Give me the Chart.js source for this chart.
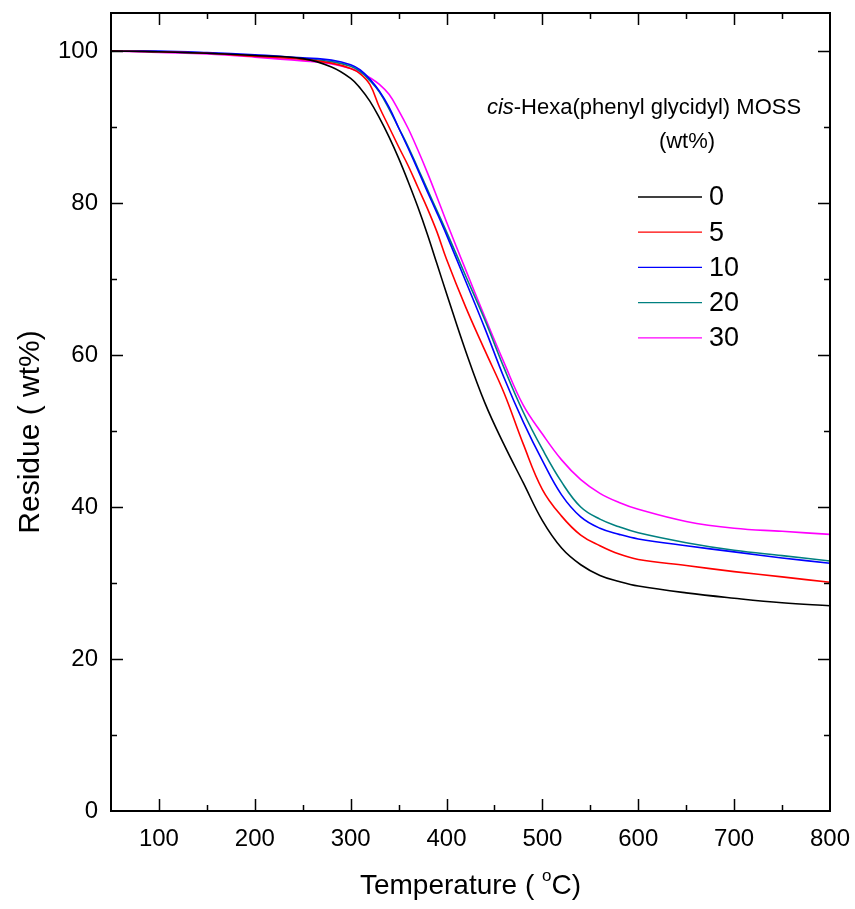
<!DOCTYPE html>
<html>
<head>
<meta charset="utf-8">
<script src="https://cdn.jsdelivr.net/npm/chart.js@4"></script>
<style>
  html, body { margin: 0; padding: 0; background: #fff; }
  #wrap { width: 855px; height: 909px; }
</style>
</head>
<body>
<div id="wrap"><canvas id="tga"></canvas></div>
<script>
// temperature grid (°C) shared by all curves
const temps = [50, 100, 150, 200, 250, 280, 300, 310, 320, 330, 340, 350, 360, 370, 380, 390, 400,
  420, 440, 460, 480, 500, 520, 540, 560, 580, 600, 650, 700, 750, 800];

// residue (wt%) per MOSS loading
const res0  = [100, 99.9, 99.7, 99.4, 99.0, 97.9, 96.4, 95.1, 93.4, 91.2, 88.7, 85.9, 82.8, 79.5, 75.9, 72.0, 68.1,
  60.5, 53.7, 48.2, 43.2, 38.2, 34.6, 32.4, 31.0, 30.2, 29.6, 28.7, 28.0, 27.4, 27.0];
const res5  = [100, 99.9, 99.7, 99.3, 98.9, 98.4, 97.7, 97.0, 95.6, 92.6, 90.0, 87.4, 84.9, 82.1, 79.3, 76.2, 72.6,
  66.3, 60.6, 55.0, 48.3, 42.3, 38.8, 36.3, 34.9, 33.8, 33.1, 32.3, 31.5, 30.8, 30.1];
const res10 = [100, 100, 99.8, 99.5, 99.1, 98.8, 98.2, 97.5, 96.3, 94.7, 92.6, 89.9, 87.2, 84.4, 81.5, 78.7, 75.8,
  69.7, 63.5, 57.0, 51.2, 46.1, 41.6, 38.7, 37.2, 36.4, 35.8, 34.9, 34.1, 33.3, 32.6];
const res20 = [100, 99.9, 99.7, 99.4, 99.0, 98.6, 98.0, 97.3, 96.1, 94.6, 92.4, 89.9, 87.4, 84.6, 81.8, 79.0, 76.2,
  70.4, 64.6, 58.3, 52.5, 47.6, 43.3, 40.0, 38.4, 37.4, 36.6, 35.3, 34.3, 33.6, 32.9];
const res30 = [100, 99.8, 99.6, 99.2, 98.7, 98.3, 97.7, 97.2, 96.5, 95.6, 94.3, 92.2, 89.8, 87.0, 84.0, 80.8, 77.5,
  71.2, 65.0, 59.0, 53.4, 49.6, 46.2, 43.6, 41.8, 40.6, 39.7, 38.1, 37.2, 36.8, 36.4];

const labels = ['0', '5', '10', '20', '30'];
const colors = ['#000000', '#ff0000', '#0000ff', '#008080', '#ff00ff'];
const xTicks = [100, 200, 300, 400, 500, 600, 700, 800];
const yTicks = [0, 20, 40, 60, 80, 100];

const series = [res0, res5, res10, res20, res30];
const datasets = series.map((s, i) => ({
  label: labels[i],
  data: temps.map((t, j) => ({ x: t, y: s[j] })),
  borderColor: colors[i],
  borderWidth: 1.6,
  pointRadius: 0,
  tension: 0.4,
  fill: false
}));

const FONT = '"Liberation Sans", Arial, sans-serif';

const decor = {
  id: 'decor',
  afterDraw(chart) {
    const { ctx, chartArea: a, scales: { x, y } } = chart;
    ctx.save();
    ctx.strokeStyle = '#000';
    ctx.lineWidth = 2;
    ctx.strokeRect(a.left, a.top, a.right - a.left, a.bottom - a.top);

    // inward ticks on all four sides
    ctx.lineWidth = 1.5;
    ctx.beginPath();
    for (let v = 100; v <= 750; v += 50) {
      const px = Math.round(x.getPixelForValue(v)) + 0.5;
      const len = v % 100 === 0 ? 12 : 6;
      ctx.moveTo(px, a.bottom); ctx.lineTo(px, a.bottom - len);
      ctx.moveTo(px, a.top); ctx.lineTo(px, a.top + len);
    }
    for (let v = 10; v <= 100; v += 10) {
      const py = Math.round(y.getPixelForValue(v)) + 0.5;
      const len = v % 20 === 0 ? 12 : 6;
      ctx.moveTo(a.left, py); ctx.lineTo(a.left + len, py);
      ctx.moveTo(a.right, py); ctx.lineTo(a.right - len, py);
    }
    ctx.stroke();

    ctx.fillStyle = '#000';
    // x title with superscript o
    ctx.textBaseline = 'alphabetic';
    ctx.font = '28px ' + FONT;
    const p1 = 'Temperature ( ', p2 = 'C)';
    const w1 = ctx.measureText(p1).width, w2 = ctx.measureText(p2).width;
    ctx.font = '17px ' + FONT;
    const wo = ctx.measureText('o').width;
    let sx = (a.left + a.right) / 2 - (w1 + wo + w2) / 2;
    const by = 894;
    ctx.font = '28px ' + FONT;
    ctx.fillText(p1, sx, by);
    ctx.font = '17px ' + FONT;
    ctx.fillText('o', sx + w1, by - 13);
    ctx.font = '28px ' + FONT;
    ctx.fillText(p2, sx + w1 + wo, by);

    // y title
    ctx.save();
    ctx.translate(39, 432);
    ctx.rotate(-Math.PI / 2);
    ctx.textAlign = 'center';
    ctx.font = '30px ' + FONT;
    ctx.fillText('Residue ( wt%)', 0, 0);
    ctx.restore();

    // legend title
    ctx.font = 'italic 22px ' + FONT;
    const wc = ctx.measureText('cis').width;
    ctx.font = '22px ' + FONT;
    const rest = '-Hexa(phenyl glycidyl) MOSS';
    const wr = ctx.measureText(rest).width;
    const lx = 644 - (wc + wr) / 2;
    ctx.font = 'italic 22px ' + FONT;
    ctx.fillText('cis', lx, 114);
    ctx.font = '22px ' + FONT;
    ctx.fillText(rest, lx + wc, 114);
    ctx.textAlign = 'center';
    ctx.fillText('(wt%)', 687, 148);

    // legend entries
    ctx.textAlign = 'left';
    ctx.textBaseline = 'middle';
    ctx.font = '27px ' + FONT;
    labels.forEach((lab, i) => {
      const ly = 197 + i * 35.2;
      ctx.strokeStyle = colors[i];
      ctx.lineWidth = 1.3;
      ctx.beginPath();
      ctx.moveTo(638, ly); ctx.lineTo(702, ly);
      ctx.stroke();
      ctx.fillText(lab, 709, ly + 1);
    });
    ctx.restore();
  }
};

new Chart(document.getElementById('tga'), {
  type: 'line',
  data: { datasets },
  plugins: [decor],
  options: {
    responsive: true,
    maintainAspectRatio: false,
    animation: false,
    layout: { padding: { top: 13, right: 25, left: 0, bottom: 0 } },
    plugins: { legend: { display: false }, tooltip: { enabled: false } },
    scales: {
      x: {
        type: 'linear',
        min: 50, max: 800,
        afterBuildTicks: s => { s.ticks = xTicks.map(v => ({ value: v })); },
        afterFit: s => { s.height = 98; s.paddingLeft = 0; s.paddingRight = 0; },
        grid: { display: false, drawTicks: false },
        border: { display: false },
        ticks: { color: '#000', padding: 14, maxRotation: 0, font: { family: FONT, size: 24 } }
      },
      y: {
        type: 'linear',
        min: 0, max: 105,
        afterBuildTicks: s => { s.ticks = yTicks.map(v => ({ value: v })); },
        afterFit: s => { s.width = 111; s.paddingTop = 0; s.paddingBottom = 0; },
        grid: { display: false, drawTicks: false },
        border: { display: false },
        ticks: { color: '#000', padding: 13, font: { family: FONT, size: 24 } }
      }
    }
  }
});
</script>
</body>
</html>
